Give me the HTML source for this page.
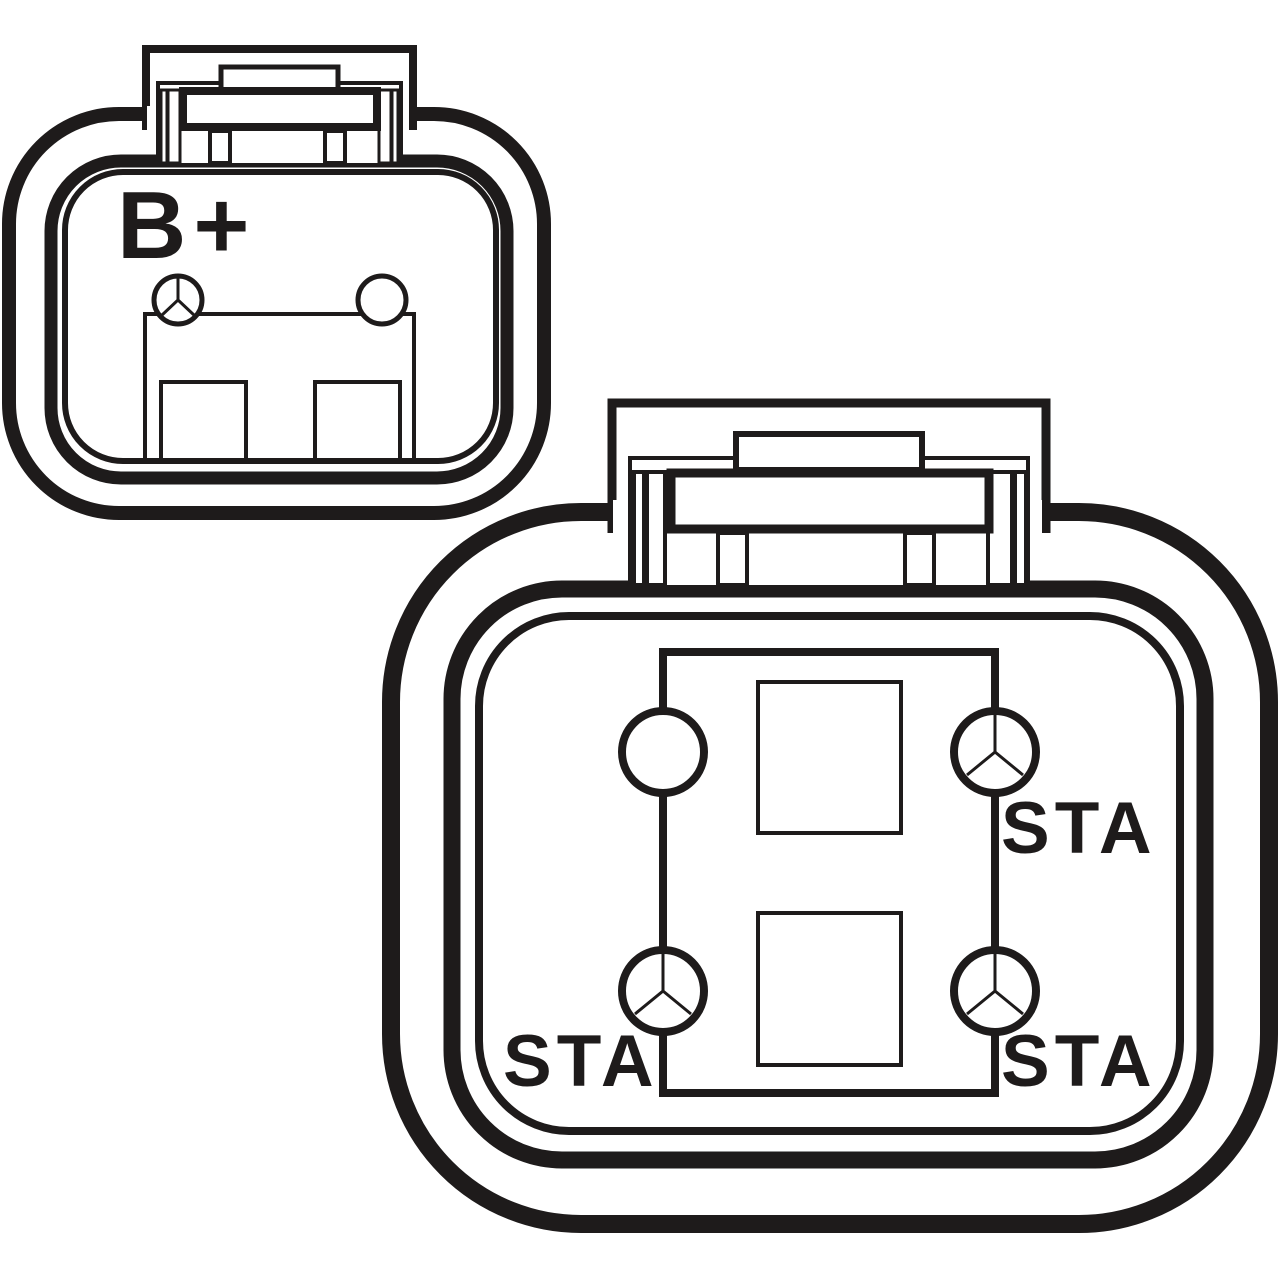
<!DOCTYPE html>
<html><head><meta charset="utf-8"><style>
html,body{margin:0;padding:0;background:#fff;}
svg{display:block;}
text{font-family:"Liberation Sans",sans-serif;font-weight:bold;fill:#1e1b1b;}
</style></head><body>
<svg width="1280" height="1280" viewBox="0 0 1280 1280" xmlns="http://www.w3.org/2000/svg">
<g fill="none" stroke="#1e1b1b">
<!-- SMALL CONNECTOR -->
<rect x="9" y="114" width="535" height="399" rx="110" stroke-width="14"/>
<rect x="51" y="161" width="456" height="317" rx="70" stroke-width="13"/>
<rect x="65" y="172" width="431" height="289" rx="58" stroke-width="6"/>
<!-- tab -->
<path d="M146 130 V49 H413 V130" stroke-width="8" fill="#fff"/>
<rect x="147" y="106" width="262" height="26" fill="#fff" stroke="none"/>
<path d="M158 163 V83 H401 V163" stroke-width="4" fill="#fff"/>
<rect x="221" y="67" width="117" height="23" stroke-width="5" fill="#fff"/>
<rect x="161" y="90" width="6" height="73" stroke-width="3" fill="#fff"/>
<rect x="168" y="90" width="12" height="73" stroke-width="3" fill="#fff"/>
<rect x="392" y="90" width="6" height="73" stroke-width="3" fill="#fff"/>
<rect x="379" y="90" width="12" height="73" stroke-width="3" fill="#fff"/>
<rect x="183" y="91" width="194" height="36" stroke-width="8" fill="#fff"/>
<rect x="210" y="131" width="20" height="32" stroke-width="4" fill="#fff"/>
<rect x="325" y="131" width="20" height="32" stroke-width="4" fill="#fff"/>
<!-- housing -->
<path d="M145 460 V314 H414 V460" stroke-width="4"/>
<path d="M161 460 V382 H246 V460" stroke-width="4"/>
<path d="M315 460 V382 H400 V460" stroke-width="4"/>
<circle cx="178" cy="300" r="24" stroke-width="5" fill="#fff"/>
<path d="M178 276 V300 L161 316 M178 300 L195 316" stroke-width="3"/>
<circle cx="382" cy="300" r="24" stroke-width="5" fill="#fff"/>

<!-- BIG CONNECTOR -->
<rect x="391" y="512" width="878" height="712" rx="190" stroke-width="18"/>
<rect x="452" y="589" width="753" height="571" rx="110" stroke-width="17"/>
<rect x="479" y="616" width="701" height="515" rx="90" stroke-width="8"/>
<!-- tab -->
<path d="M612 533 V403 H1046 V533" stroke-width="9" fill="#fff"/>
<rect x="613" y="500" width="429" height="36" fill="#fff" stroke="none"/>
<path d="M630 585 V458 H1028 V585" stroke-width="4" fill="#fff"/>
<rect x="736" y="434" width="186" height="36" stroke-width="6" fill="#fff"/>
<rect x="634" y="472" width="10" height="113" stroke-width="4" fill="#fff"/>
<rect x="647" y="472" width="18" height="113" stroke-width="4" fill="#fff"/>
<rect x="1015" y="472" width="11" height="113" stroke-width="4" fill="#fff"/>
<rect x="988" y="472" width="24" height="113" stroke-width="4" fill="#fff"/>
<rect x="671" y="473" width="318" height="56" stroke-width="9" fill="#fff"/>
<rect x="718" y="533" width="29" height="52" stroke-width="4" fill="#fff"/>
<rect x="905" y="533" width="29" height="52" stroke-width="4" fill="#fff"/>
<!-- housing -->
<rect x="663" y="652" width="332" height="441" stroke-width="8"/>
<rect x="758" y="682" width="143" height="151" stroke-width="4"/>
<rect x="758" y="913" width="143" height="152" stroke-width="4"/>
<circle cx="663" cy="752" r="41" stroke-width="8" fill="#fff"/>
<g stroke-width="3">
<circle cx="995" cy="752" r="41" stroke-width="8" fill="#fff"/>
<path d="M995 711 V752 L967 775 M995 752 L1023 775"/>
<circle cx="663" cy="991" r="41" stroke-width="8" fill="#fff"/>
<path d="M663 950 V991 L635 1014 M663 991 L691 1014"/>
<circle cx="995" cy="991" r="41" stroke-width="8" fill="#fff"/>
<path d="M995 950 V991 L967 1014 M995 991 L1023 1014"/>
</g>
</g>
<text x="117" y="258" font-size="96" letter-spacing="7">B+</text>
<text x="1001" y="853" font-size="73" letter-spacing="5">STA</text>
<text x="503" y="1086" font-size="73" letter-spacing="5">STA</text>
<text x="1001" y="1086" font-size="73" letter-spacing="5">STA</text>
</svg>
</body></html>
